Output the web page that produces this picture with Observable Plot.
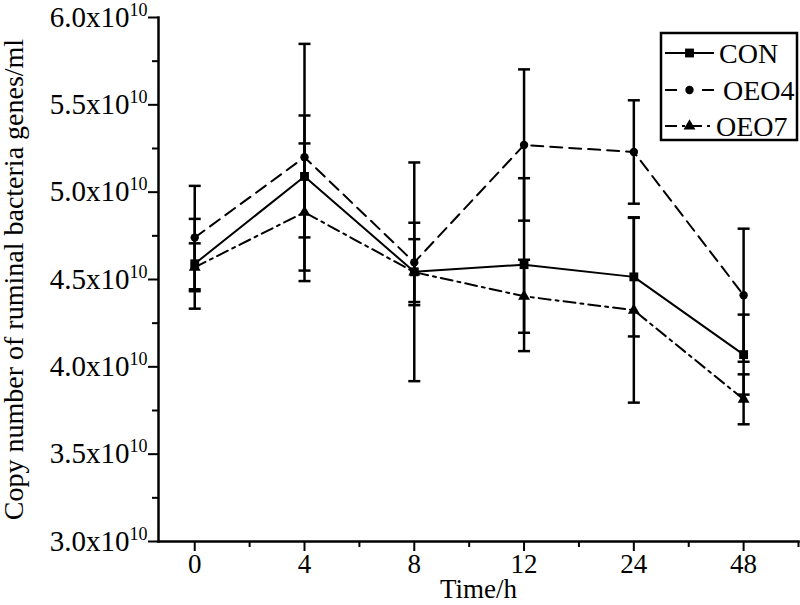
<!DOCTYPE html>
<html><head><meta charset="utf-8">
<script src="https://cdn.jsdelivr.net/npm/d3@7"></script>
<script src="https://cdn.jsdelivr.net/npm/@observablehq/plot@0.6"></script>
<style>body{margin:0;background:#fff}</style>
</head><body><div id="chart"></div>
<script>
// values in units of 10^10 copies/ml
const times = ["0", "4", "8", "12", "24", "48"];
const seriesNames = ["CON", "OEO4", "OEO7"];
const conMean = [4.59, 5.09, 4.544, 4.585, 4.515, 4.07];
const conErr = [0.257, 0.349, 0.626, 0.495, 0.341, 0.229];
const oeo4Mean = [4.74, 5.20, 4.598, 5.27, 5.23, 4.41];
const oeo4Err = [0.296, 0.649, 0.227, 0.433, 0.296, 0.381];
const oeo7Mean = [4.57, 4.885, 4.542, 4.404, 4.324, 3.814];
const oeo7Err = [0.137, 0.394, 0.189, 0.209, 0.529, 0.143];
const yTicks = [3.0, 3.5, 4.0, 4.5, 5.0, 5.5, 6.0];
const yMinor = [3.25, 3.75, 4.25, 4.75, 5.25, 5.75];
const xMinor = [0.5, 1.5, 2.5, 3.5, 4.5, 5.5];

const means = {CON: conMean, OEO4: oeo4Mean, OEO7: oeo7Mean};
const errs = {CON: conErr, OEO4: oeo4Err, OEO7: oeo7Err};
const rows = seriesNames.flatMap(s => times.map((t, i) => ({series: s, i, time: t, mean: means[s][i], err: errs[s][i]})));
const caps = rows.flatMap(d => [{i: d.i, y: d.mean - d.err}, {i: d.i, y: d.mean + d.err}]);

const dash = {CON: null, OEO4: "12,7", OEO7: "12,5,3,5"};
const symbols = {CON: "square", OEO4: "circle", OEO7: "triangle"};
const radii = {CON: 5, OEO4: 4.2, OEO7: 4.4};

const capSymbol = {draw(ctx, size) { const h = Math.sqrt(size / Math.PI); ctx.moveTo(-h, 0); ctx.lineTo(h, 0); }};

const font = "Liberation Serif, Times New Roman, serif";

const chart = Plot.plot({
  width: 800, height: 605,
  marginLeft: 158, marginRight: 2, marginTop: 17, marginBottom: 64,
  style: {fontFamily: font, color: "#000", background: "#fff", overflow: "visible"},
  x: {type: "linear", domain: [-0.33, 5.5]},
  y: {domain: [3.0, 6.0]},
  marks: [
    Plot.axisY({ticks: yTicks, tickSize: 10, tickPadding: 1, strokeWidth: 2, fontSize: 29,
      tickFormat: d => d.toFixed(1) + "x10", label: null}),
    Plot.axisY({ticks: yMinor, tickSize: 6, strokeWidth: 2, tickFormat: () => "",
      label: "Copy number of ruminal bacteria genes/ml", fontSize: 28,
      labelAnchor: "center", labelArrow: "none", labelOffset: 155}),
    Plot.axisX({ticks: [0, 1, 2, 3, 4, 5], tickSize: 10, tickPadding: 2, strokeWidth: 2, fontSize: 27,
      tickFormat: i => times[i], label: null}),
    Plot.axisX({ticks: xMinor, tickSize: 6, strokeWidth: 2, tickFormat: () => "", fontSize: 27,
      label: "Time/h", labelAnchor: "center", labelArrow: "none", labelOffset: 56}),
    Plot.frame({anchor: "left", strokeWidth: 2.5}),
    Plot.frame({anchor: "bottom", strokeWidth: 2.5}),
    ...seriesNames.map(s => Plot.line(rows.filter(d => d.series === s), {
      x: "i", y: "mean", stroke: "#000", strokeWidth: 2, strokeDasharray: dash[s]})),
    Plot.ruleX(rows, {x: "i", y1: d => d.mean - d.err, y2: d => d.mean + d.err, stroke: "#000", strokeWidth: 2.5}),
    Plot.dot(caps, {x: "i", y: "y", symbol: capSymbol, r: 6, stroke: "#000", strokeWidth: 2.5, fill: "none"}),
    ...seriesNames.map(s => Plot.dot(rows.filter(d => d.series === s), {
      x: "i", y: "mean", symbol: symbols[s], r: radii[s], fill: "#000", stroke: "none"}))
  ]
});

// superscript exponents on y tick labels
d3.select(chart).selectAll('g[aria-label="y-axis tick label"] text').each(function() {
  if (!this.textContent) return;
  d3.select(this).append("tspan").attr("dy", "-0.62em").attr("font-size", 18).text("10");
});

// legend
const svg = d3.select(chart);
const lg = svg.append("g").attr("font-family", font).attr("font-size", 28).attr("text-anchor", "start");
lg.append("rect").attr("x", 661).attr("y", 33).attr("width", 136).attr("height", 107)
  .attr("fill", "#fff").attr("stroke", "#000").attr("stroke-width", 2.5);
const legendRows = [{s: "CON", y: 53, tx: 719}, {s: "OEO4", y: 90, tx: 723}, {s: "OEO7", y: 126, tx: 716}];
legendRows.forEach(r => {
  lg.append("line").attr("x1", 665).attr("x2", 714).attr("y1", r.y).attr("y2", r.y)
    .attr("stroke", "#000").attr("stroke-width", 2)
    .attr("stroke-dasharray", r.s === "CON" ? null : (r.s === "OEO4" ? "12,25" : "12,5,3,5"));
  lg.append("path").attr("transform", `translate(689.5,${r.y})`)
    .attr("d", d3.symbol(r.s === "CON" ? d3.symbolSquare : r.s === "OEO4" ? d3.symbolCircle : d3.symbolTriangle,
      Math.PI * radii[r.s] * radii[r.s])())
    .attr("fill", "#000");
  lg.append("text").attr("x", r.tx).attr("y", r.y).attr("dy", "0.35em").attr("text-anchor", "start").text(r.s);
});

document.getElementById("chart").append(chart);
</script>
</body></html>
